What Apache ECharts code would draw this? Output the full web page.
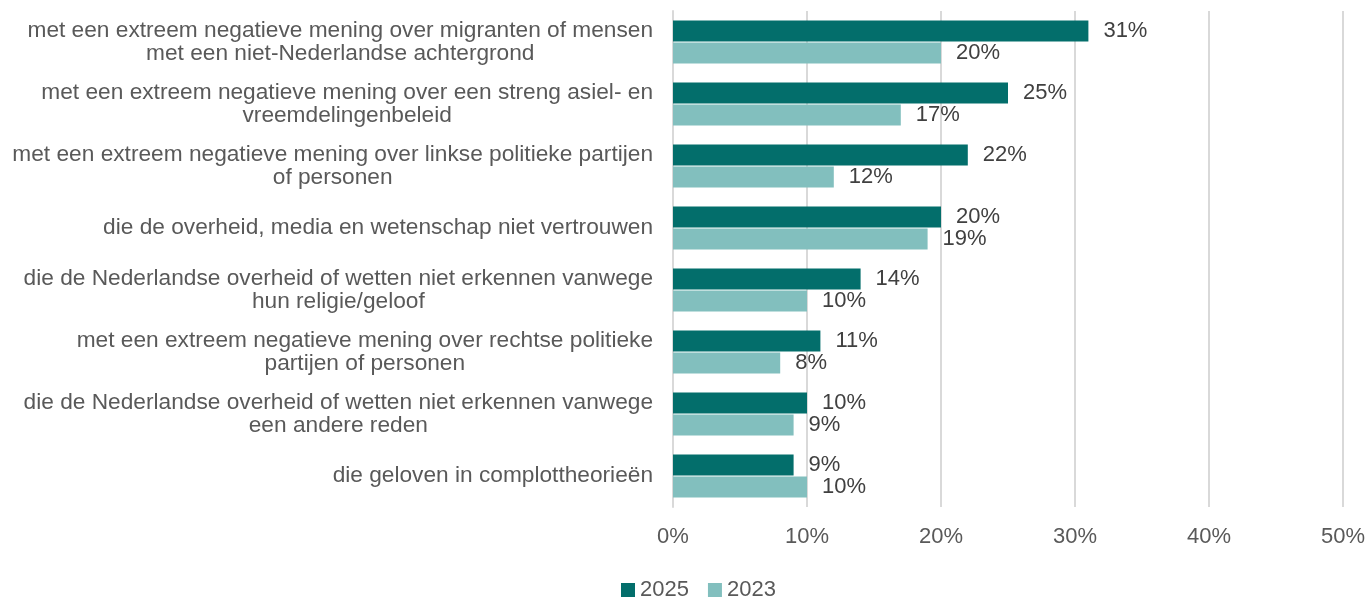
<!DOCTYPE html>
<html>
<head>
<meta charset="utf-8">
<style>
  html, body { margin: 0; padding: 0; background: #ffffff; }
  #chart { width: 1369px; height: 597px; }
</style>
<script src="https://cdn.jsdelivr.net/npm/echarts@6/dist/echarts.min.js"></script>
</head>
<body>
<div id="chart"></div>
<script>
// Categories (line breaks are where each label wraps)
const categories = [
  'met een extreem negatieve mening over migranten of mensen\nmet een niet-Nederlandse achtergrond',
  'met een extreem negatieve mening over een streng asiel- en\nvreemdelingenbeleid',
  'met een extreem negatieve mening over linkse politieke partijen\nof personen',
  'die de overheid, media en wetenschap niet vertrouwen',
  'die de Nederlandse overheid of wetten niet erkennen vanwege\nhun religie/geloof',
  'met een extreem negatieve mening over rechtse politieke\npartijen of personen',
  'die de Nederlandse overheid of wetten niet erkennen vanwege\neen andere reden',
  'die geloven in complottheorieën'
];

// Percentages per year
const values2025 = [31, 25, 22, 20, 14, 11, 10, 9];
const values2023 = [20, 17, 12, 19, 10, 8, 9, 10];

const seriesNames = ['2025', '2023'];
const xTicks = [0, 10, 20, 30, 40, 50];

const FONT = '"Liberation Sans", Arial, sans-serif';
const TEXT_GREY = '#595959';
const DARK = '#036e6b';
const LIGHT = '#82bfbe';

const chart = echarts.init(document.getElementById('chart'), null, { renderer: 'canvas' });

// Each wrapped line is centred within the label block
function categoryLabel(value) {
  return value.split('\n').map(l => '{c|' + l + '}').join('\n');
}

const barLabel = {
  show: true,
  position: 'right',
  distance: 15,
  formatter: p => p.value + '%',
  fontFamily: FONT,
  fontSize: 22,
  color: '#404040'
};

chart.setOption({
  backgroundColor: '#ffffff',
  animation: false,
  textStyle: { fontFamily: FONT },
  grid: { left: 673, right: 26, top: 11, bottom: 90, containLabel: false },
  legend: {
    data: seriesNames,
    left: 616,
    top: 574,
    icon: 'rect',
    itemWidth: 14,
    itemHeight: 14,
    itemGap: 19,
    textStyle: { fontFamily: FONT, fontSize: 22, color: TEXT_GREY }
  },
  xAxis: {
    type: 'value',
    min: xTicks[0],
    max: xTicks[xTicks.length - 1],
    interval: xTicks[1] - xTicks[0],
    axisLine: { show: false },
    axisTick: { show: false },
    splitLine: { show: true, lineStyle: { color: '#d9d9d9', width: 2 } },
    axisLabel: {
      formatter: v => v + '%',
      margin: 19,
      fontFamily: FONT,
      fontSize: 22,
      color: TEXT_GREY
    }
  },
  yAxis: {
    type: 'category',
    data: categories,
    inverse: true,
    axisLine: { show: true, lineStyle: { color: '#d9d9d9', width: 2 } },
    axisTick: { show: false },
    axisLabel: {
      margin: 20,
      formatter: categoryLabel,
      rich: {
        c: {
          align: 'center',
          fontFamily: FONT,
          fontSize: 22.7,
          lineHeight: 23,
          color: TEXT_GREY
        }
      }
    }
  },
  series: [
    {
      name: seriesNames[0],
      type: 'bar',
      data: values2025,
      itemStyle: { color: DARK },
      barGap: '5%',
      barCategoryGap: '31%',
      label: barLabel
    },
    {
      name: seriesNames[1],
      type: 'bar',
      data: values2023,
      itemStyle: { color: LIGHT },
      barGap: '5%',
      barCategoryGap: '31%',
      label: barLabel
    }
  ]
});
</script>
</body>
</html>
